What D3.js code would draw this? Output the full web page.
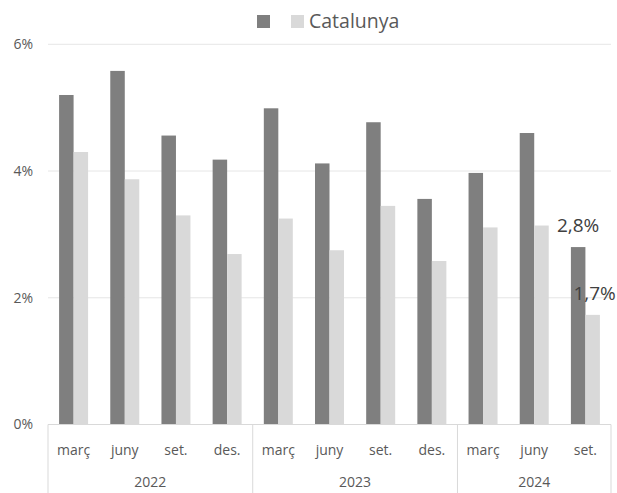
<!DOCTYPE html>
<html>
<head>
<meta charset="utf-8">
<script src="https://cdn.jsdelivr.net/npm/d3@7"></script>
<style>
  html, body { margin: 0; padding: 0; background: #fff; }
  svg { display: block; font-family: "Open Sans", "Noto Sans", sans-serif; }
</style>
</head>
<body>
<svg id="chart" width="617" height="493"></svg>
<script>
const months = ["març", "juny", "set.", "des.", "març", "juny", "set.", "des.", "març", "juny", "set."];
const years = ["2022", "2023", "2024"];
const yearSpans = [4, 4, 3];
const seriesNames = ["", "Catalunya"];
const seriesA = [5.20, 5.58, 4.56, 4.18, 4.99, 4.12, 4.77, 3.56, 3.97, 4.60, 2.80];
const seriesB = [4.30, 3.87, 3.30, 2.69, 3.25, 2.75, 3.45, 2.58, 3.11, 3.14, 1.73];
const yTicks = [0, 2, 4, 6];
const colors = ["#7f7f7f", "#d9d9d9"];
const labelled = [{series: 0, index: 10, text: "2,8%"}, {series: 1, index: 10, text: "1,7%"}];

(function () {
const svg = d3.select("#chart");
const pLeft = 48, pRight = 611, pTop = 44.3, pBottom = 424.5;

const x = d3.scaleBand().domain(d3.range(months.length)).range([pLeft, pRight]).padding(0);
const x1 = d3.scaleBand().domain([0, 1]).range([0, x.bandwidth()]).paddingInner(0).paddingOuter(0.765);
const y = d3.scaleLinear().domain([0, 6]).range([pBottom, pTop]);

// gridlines
svg.append("g").selectAll("line").data(yTicks.filter(t => t > 0)).join("line")
  .attr("x1", pLeft).attr("x2", pRight)
  .attr("y1", d => y(d)).attr("y2", d => y(d))
  .attr("stroke", "#e6e6e6").attr("stroke-width", 1);

// y axis labels
const yAxis = d3.axisLeft(y).tickValues(yTicks).tickFormat(d => d + "%").tickSize(0).tickPadding(0);
const gy = svg.append("g").attr("transform", `translate(33,0)`).call(yAxis);
gy.select(".domain").remove();
gy.selectAll("text").attr("fill", "#595959").style("font-size", "14px")
  .style("font-family", "'Open Sans', sans-serif");

// bars
const data = months.map((m, i) => [seriesA[i], seriesB[i]]);
const groups = svg.append("g").selectAll("g").data(data).join("g")
  .attr("transform", (d, i) => `translate(${x(i)},0)`);
groups.selectAll("rect").data(d => d.map((v, s) => ({v, s}))).join("rect")
  .attr("x", d => x1(d.s)).attr("width", x1.bandwidth())
  .attr("y", d => y(d.v)).attr("height", d => y(0) - y(d.v))
  .attr("fill", d => colors[d.s]);

// x axis line & category boxes
svg.append("line").attr("x1", pLeft).attr("x2", pRight).attr("y1", pBottom).attr("y2", pBottom)
  .attr("stroke", "#d9d9d9").attr("stroke-width", 1);
let cum = 0;
const boundaries = [0];
yearSpans.forEach(s => { cum += s; boundaries.push(cum); });
const bx = d => d < months.length ? x(d) : pRight;
svg.append("g").selectAll("line").data(boundaries).join("line")
  .attr("x1", bx).attr("x2", bx)
  .attr("y1", pBottom).attr("y2", 493)
  .attr("stroke", "#d9d9d9").attr("stroke-width", 1);

// month labels
svg.append("g").selectAll("text").data(months).join("text")
  .attr("x", (d, i) => x(i) + x.bandwidth() / 2).attr("y", 455)
  .attr("text-anchor", "middle").attr("fill", "#595959").style("font-size", "14px")
  .text(d => d);

// year labels
svg.append("g").selectAll("text").data(years).join("text")
  .attr("x", (d, i) => (bx(boundaries[i]) + bx(boundaries[i + 1])) / 2)
  .attr("y", 487).attr("text-anchor", "middle").attr("fill", "#595959").style("font-size", "14px")
  .text(d => d);

// data labels
const seriesArr = [seriesA, seriesB];
svg.append("g").selectAll("text").data(labelled).join("text")
  .attr("x", d => x(d.index) + x1(d.series) + x1.bandwidth() / 2 + (d.series === 1 ? 2 : 0))
  .attr("y", d => y(seriesArr[d.series][d.index]) - 15)
  .attr("text-anchor", "middle").attr("fill", "#404040").style("font-size", "19px")
  .text(d => d.text);

// legend
const legend = svg.append("g");
const legX = [257, 291];
seriesNames.forEach((name, i) => {
  legend.append("rect").attr("x", legX[i]).attr("y", 15).attr("width", 13).attr("height", 13).attr("fill", colors[i]);
  if (name) legend.append("text").attr("x", legX[i] + 18).attr("y", 28)
    .attr("fill", "#595959").style("font-size", "19.5px").text(name);
});
})();
</script>
</body>
</html>
